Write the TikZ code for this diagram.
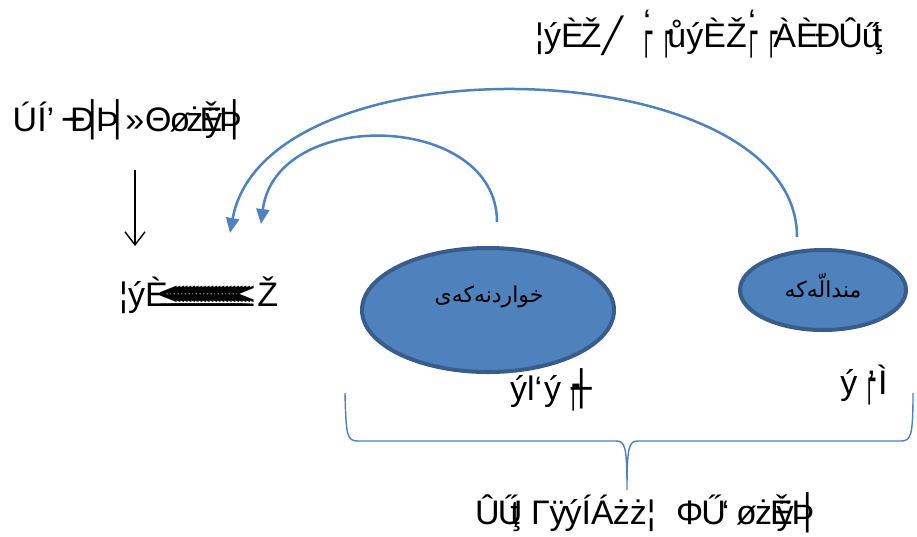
\documentclass[tikz,border=0pt]{standalone}
\usepackage{graphicx}
\usepackage{fontspec}
\setmainfont{Liberation Sans}
\newfontfamily\dv{DejaVu Sans}
\newfontfamily\arabicfont[Script=Arabic]{DejaVu Sans}
\TeXXeTstate=1
\usetikzlibrary{arrows.meta}
\definecolor{accblue}{HTML}{4F81BD}
\definecolor{accdark}{HTML}{385D8A}
\newcommand\bxc[1]{{\dv #1}}
\newcommand\bxn[1]{\scalebox{0.6}[1.25]{\dv #1}}
\newcommand\lqq{≤\kern-15pt}
\newcommand\cl[2]{\makebox[#1pt][l]{#2}}
\tikzset{
  garb/.style={font=\fontsize{34}{38}\selectfont, inner sep=0pt, text=black},
  blob/.style={ellipse, fill=accblue, draw=accdark, line width=4pt, inner sep=0pt},
  blabel/.style={font=\arabicfont\fontsize{22}{26}\selectfont, text=black, inner sep=0pt},
  curvearrow/.style={draw=accblue, line width=2.5pt, -{Triangle[length=15pt,width=13pt]}},
  bracepath/.style={draw=accblue, line width=1.4pt},
}
\usetikzlibrary{shapes.geometric}
\begin{document}
\begin{tikzpicture}[x=1pt,y=-1pt]
\useasboundingbox (0,0) rectangle (917,536);
\fill[white] (0,0) rectangle (917,536);

% texts
\node[garb, anchor=west] (top) at (535,34) {\cl{105}{¦ýÈ\kern-3pt Ž\kern1pt\bxc{╱}}\cl{20}{\bxn{┌}\kern-9pt\raisebox{14pt}{‘}}\cl{85}{\bxn{┌}\kern-5pt ůýÈŽ}\cl{20}{\bxn{┌}\kern-9pt\raisebox{14pt}{‘}}\bxn{┌}\kern-4pt À\kern0pt È\kern-3pt Ð\kern-2pt Û\kern-1pt ű\kern-8pt ţ};
\node[garb] (left) at (129,120) {ÚÍ’ \bxc{─}\kern-14pt Ð\kern-12pt \bxc{│}\kern-7pt Þ\kern-11pt \bxc{│}\kern-3pt »\kern1pt Θ\kern-2pt ø\kern-4pt ż\kern-4pt Ě\kern-17pt ÿ\kern-3pt Þ\kern-17pt \bxc{│}};
\node[garb, anchor=west] (mid) at (119,295) {\cl{40}{¦ýÈ}\cl{98}{\lqq\lqq\lqq\lqq\lqq\lqq\lqq\lqq\lqq\lqq\lqq\lqq\lqq\lqq\lqq\lqq\lqq\lqq\lqq\lqq\lqq≤}Ž};
\node[garb] (lab1) at (551,390) {ýl‘\kern2pt ý\kern6pt\bxn{┌}\kern-8pt\bxc{┼}};
\node[garb] (lab2) at (864,385) {ý\kern6pt\bxn{┌}\kern-8pt’\kern3pt Ì};
\node[garb, anchor=west] (bot) at (475,513) {\cl{56}{Û\kern-2pt Ű\kern-12pt ţ}\cl{145}{Гÿ\kern-2pt ýÍÁ\kern-1pt żż¦}\cl{60}{Φ\kern-2pt Ű\kern-4pt‘}ø\kern-2pt ż\kern-2pt Ě\kern-16pt ÿ\kern-2pt Þ\kern-17pt \bxc{│}};

% ellipses
\node[blob, minimum width=252pt, minimum height=124pt] (e1) at (488,310) {};
\node[blob, minimum width=166pt, minimum height=80pt] (e2) at (823,290) {};
\node[blabel] (t1) at (489,297) {\beginR خواردنەکەی\endR};
\node[blabel] (t2) at (823,286) {\beginR مندالّەکە\endR};

% arrow down
\coordinate (dA) at (135,170);
\coordinate (dB) at (135,246);
\draw[line width=1.4pt, -{Straight Barb[length=13pt,width=20pt,line width=1.4pt]}] (dA) -- (dB);

% curved arrows
\coordinate (iS) at (497,222);
\coordinate (iE) at (261,224);
\coordinate (oS) at (797,237);
\coordinate (oE) at (230,233);
\path[curvearrow] (iS) .. controls (497,112) and (276,106) .. (iE);
\path[curvearrow] (oS) .. controls (797,50) and (266,36) .. (oE);

% brace
\coordinate (bL) at (345,393);
\coordinate (bM) at (627,490);
\coordinate (bR) at (913,393);
\path[bracepath] (bL) .. controls (346,436) and (347,441) .. (358,441) -- (616,441)
  .. controls (625,441) and (627,446) .. (bM)
  .. controls (627,446) and (629,441) .. (638,441) -- (901,441)
  .. controls (911,441) and (913,436) .. (bR);
\end{tikzpicture}
\end{document}
